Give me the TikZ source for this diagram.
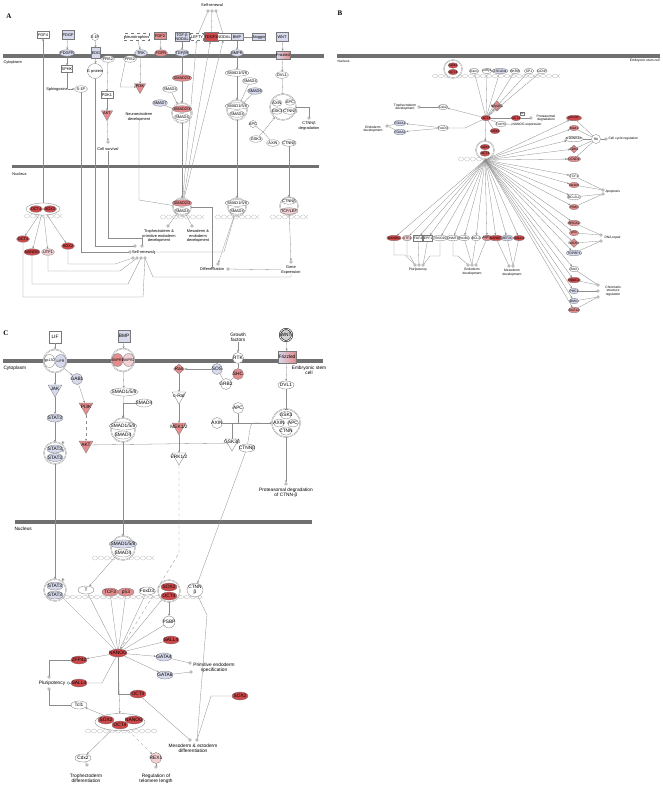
\documentclass[tikz,border=0pt]{standalone}
\usepackage{fontspec}
\setmainfont{Liberation Sans}
\newfontfamily\letterfont{Liberation Serif}
\usetikzlibrary{arrows.meta,positioning,shapes.geometric,calc}
\definecolor{ipared}{RGB}{206,72,74}
\definecolor{ipamid}{RGB}{228,140,142}
\definecolor{ipapink}{RGB}{243,208,210}
\definecolor{ipablue}{RGB}{214,218,236}
\definecolor{ipaline}{RGB}{120,120,120}
\definecolor{ipaedge}{RGB}{140,140,140}
\definecolor{ipamemb}{RGB}{112,112,112}
\tikzset{
  lbl/.style={font=\fontsize{3.9}{4.4}\selectfont, inner sep=0.3pt, align=center},
  small/.style={font=\fontsize{3.5}{3.9}\selectfont},
  letter/.style={font=\letterfont\bfseries\fontsize{7}{8}\selectfont, inner sep=0pt},
  gene/.style={lbl, ellipse, draw=ipaline, fill=white, line width=0.3pt, minimum width=13pt, minimum height=6.5pt, inner xsep=-1.5pt, inner ysep=0pt},
  gbox/.style={lbl, rectangle, draw=ipaline, fill=white, line width=0.3pt, minimum width=12pt, minimum height=7pt},
  kinase/.style={regular polygon, regular polygon sides=3, shape border rotate=180, draw=ipaline, fill=white, line width=0.3pt, minimum size=13pt, inner sep=0pt, label={[lbl,yshift=0.6pt]center:#1}},
  phos/.style={lbl, diamond, draw=ipaline, fill=white, line width=0.3pt, minimum width=11pt, minimum height=10pt, inner sep=-1pt},
  cplx/.style={circle, draw=ipaline, double=white, double distance=0.5pt, line width=0.25pt, fill=white},
  endpt/.style={circle, draw=ipaline, fill=white, line width=0.3pt, minimum size=2.6pt, inner sep=0pt},
  phosph/.style={circle, draw=ipaline, fill=white, line width=0.2pt, inner sep=0.1pt, font=\fontsize{2.4}{2.6}\selectfont},
  wntring/.style={lbl, circle, draw=black, line width=0.5pt, double=white, double distance=0.8pt, fill=gray!35, minimum size=12pt},
  hot/.style={fill=ipared}, warm/.style={fill=ipamid}, pale/.style={fill=ipapink}, cool/.style={fill=ipablue},
  link/.style={draw=ipaedge, line width=0.3pt},
  act/.style={link, -{Stealth[length=2.2pt,width=2pt]}},
  blk/.style={link, -{Bar[width=3pt]}},
  helixline/.style={draw=gray!55, line width=0.3pt},
}
% DNA strand under a transcription complex: x, y, width
\newcommand{\dnahelix}[3]{%
  \draw[helixline] plot[domain=0:#3,samples=60,smooth] ({#1-#3/2+\x},{#2+2*sin(\x*30)});
  \draw[helixline] plot[domain=0:#3,samples=60,smooth] ({#1-#3/2+\x},{#2-2*sin(\x*30)});
}
\begin{document}
\begin{tikzpicture}[x=1pt,y=-1pt]
\useasboundingbox[fill=white] (0,0) rectangle (662,790);

%%%%%%%%%%%%%%%% panel A
\begin{scope}
  \node[letter] (labA) at (9,16) {A};
  \fill[ipamemb] (3,54) rectangle (324,58);
  \fill[ipamemb] (12,165) rectangle (319,168);
  \node[lbl, anchor=west] (cytA) at (3,62) {Cytoplasm};
  \node[lbl, anchor=west] (nucA) at (12,174) {Nucleus};

  \node[gbox] (fgf4A) at (43,35) {FGF4};
  \node[gbox,cool,minimum height=9pt] (pdgfA) at (68,35) {PDGF};
  \node[gene,cool] (pdgfrA) at (67,53) {PDGFR};
  \node[gene,circle,minimum size=7pt] (s1pA) at (95,37) {S-1P};
  \node[gbox,cool,minimum width=9pt,minimum height=11pt] (edgA) at (96,53) {EDG};
  \node[gbox,dashed] (ntroA) at (137,37) {Neurotrophins};
  \node[gbox,warm] (fgf2A) at (160,36) {FGF2};
  \node[gene,cool] (trkA) at (141,53) {TRK};
  \node[gene,warm] (fgfrA) at (161,53) {FGFR};
  \node[gene] (frs2A) at (108,59) {FRS2};
  \node[gene] (irsA) at (130,59) {FRS2};
  \node[gbox,minimum width=11pt] (sphkA) at (67,69) {SPHK};
  \node[lbl] (sphgA) at (57,89) {Sphingosine};
  \node[gene] (s1pbA) at (81,89) {S-1P};
  \node[gene,circle,minimum size=15pt] (gprA) at (95,71) {G protein};
  \node[gbox] (pdk1A) at (107,95) {PDK1};
  \node[kinase=AKT,warm] (aktA) at (107,114) {};
  \node[endpt] (survcA) at (108,142) {};
  \node[lbl] (survA) at (108,149) {Cell survival};
  \node[kinase=PI3K,warm] (pi3kA) at (140,87) {};
  \node[gene,cool] (smad7A) at (160,103) {SMAD7};
  \node[lbl] (neuroA) at (139,117) {Neuroectoderm\\development};

  \node[lbl] (srtA) at (212,5) {Self-renewal};
  \node[endpt] (srt1A) at (208,11) {};
  \node[endpt] (srt2A) at (212,11) {};
  \node[endpt] (srt3A) at (216,11) {};
  \node[gbox,cool,minimum height=9pt] (tgfnA) at (182,37) {TGF-β\\NODAL};
  \node[gbox,dashed] (leftyA) at (197,37) {LEFTY};
  \node[gbox,hot,minimum width=14pt,minimum height=9pt] (tdgfA) at (211,37) {TDGF1};
  \node[gbox] (nodalA) at (224,37) {NODAL};
  \node[gene,cool] (tgfbrA) at (182,53) {TGFβR};
  \node[gbox,cool] (bmpA) at (237,37) {BMP};
  \node[gbox,cool] (noggA) at (259,37) {Noggin};
  \node[gbox,cool,minimum height=9pt] (wntA) at (282,37) {WNT};
  \node[gbox,left color=ipablue,right color=ipamid,minimum width=14pt,minimum height=8pt] (fzdA) at (283,55) {Frizzled};
  \node[gene,cool] (bmprA) at (237,53) {BMPR};
  \node[gene,warm] (smad23A) at (182,78) {SMAD2/3};
  \node[gene] (smad4A) at (170,89) {SMAD4};
  \node[cplx,minimum size=20pt] (cx23A) at (182,113) {};
  \node[gene,warm] (cx23aA) at (182,109) {SMAD2/3};
  \node[gene] (cx23bA) at (182,117) {SMAD4};
  \node[gene] (smad158A) at (237,73) {SMAD1/5/8};
  \node[gene] (smad4bA) at (250,81) {SMAD4};
  \node[gene,cool] (smad6A) at (255,91) {SMAD6};
  \node[cplx,minimum size=20pt] (cx158A) at (237,110) {};
  \node[gene] (cx158aA) at (237,106) {SMAD1/5/8};
  \node[gene] (cx158bA) at (237,114) {SMAD4};
  \node[gene] (dvl1A) at (282,75) {DVL1};
  \node[cplx,minimum size=26pt] (cxwA) at (283,107) {};
  \node[gene,minimum width=10pt] (cxw1A) at (277,103) {AXIN};
  \node[gene,minimum width=10pt] (cxw2A) at (290,102) {APC};
  \node[gene,minimum width=10pt] (cxw3A) at (277,111) {GSK3};
  \node[gene,minimum width=10pt] (cxw4A) at (290,111) {CTNNβ};
  \node[endpt] (degcA) at (309,118) {};
  \node[lbl] (degA) at (309,126) {CTNNβ\\degradation};
  \node[gene,circle,minimum size=7pt] (apcA) at (253,124) {APC};
  \node[gene] (gsk3A) at (256,139) {GSK3};
  \node[gene] (axinA) at (273,143) {AXIN};
  \node[gene] (ctnnA) at (289,143) {CTNNβ};
  \coordinate (wjoinA) at (263,132);

  % nucleus
  \dnahelix{43}{216}{38}
  \dnahelix{182}{217}{44}
  \dnahelix{237}{217}{44}
  \dnahelix{289}{217}{38}
  \node[ellipse,draw=ipaline,line width=0.3pt,fill=white,minimum width=34pt,minimum height=12pt] (cxosA) at (43,209) {};
  \node[gene,hot] (oct4nA) at (36,209) {OCT4};
  \node[gene,hot] (sox2nA) at (50,209) {SOX2};
  \node[gene,hot] (oct4tA) at (23,239) {OCT4};
  \node[gene,hot] (nanogtA) at (32,252) {NANOG};
  \node[gene,pale] (utf1tA) at (48,252) {UTF1};
  \node[gene,hot] (sox2tA) at (68,246) {SOX2};
  \node[endpt] (srncA) at (130,252) {};
  \node[lbl,anchor=west] (srnA) at (131.5,252) {Self-renewal};
  \node[endpt] (sr1A) at (135,246) {};
  \node[endpt] (sr2A) at (142,246) {};
  \node[endpt] (sr3A) at (133,258) {};
  \node[endpt] (sr4A) at (137,258) {};
  \node[endpt] (sr5A) at (141,258) {};
  \node[endpt] (sr6A) at (145,258) {};
  \node[cplx,minimum size=18pt] (cx23nA) at (182,207) {};
  \node[gene,warm] (cx23naA) at (182,203) {SMAD2/3};
  \node[gene] (cx23nbA) at (182,211) {SMAD4};
  \node[endpt] (trophcA) at (168,226) {};
  \node[lbl] (trophA) at (159,236) {Trophectoderm \&\\primitive endoderm\\development};
  \node[endpt] (mescA) at (192,226) {};
  \node[lbl] (mesA) at (198,236) {Mesoderm \&\\endoderm\\development};
  \node[cplx,minimum size=18pt] (cx158nA) at (237,207) {};
  \node[gene] (cx158naA) at (237,203) {SMAD1/5/8};
  \node[gene] (cx158nbA) at (237,211) {SMAD4};
  \node[cplx,minimum size=18pt] (cxctA) at (289,206) {};
  \node[gene] (cxctaA) at (289,201) {CTNNβ};
  \node[gene,pale] (cxctbA) at (289,211) {TCF/LEF};
  \node[endpt] (diffuA) at (218,264) {};
  \node[lbl] (diffA) at (212,269) {Differentiation};
  \node[endpt] (diffcA) at (228,269) {};
  \node[endpt] (genecA) at (291,262) {};
  \node[lbl] (geneA) at (291,270) {Gene\\Expression};

  % cytoplasm connectors
  \draw[act] (cxosA) -- (fgf4A);
  \draw[act] (pdgfA) -- (pdgfrA);
  \draw[act] (pdgfrA) -- (sphkA);
  \draw[link] (sphkA) -- (sphkA |- s1pbA);
  \draw[act] (sphgA) -- (s1pbA);
  \draw[link] (s1pbA) |- (srncA);
  \draw[act] (s1pA) -- (edgA);
  \draw[act] (edgA) -- (gprA);
  \draw[link] (gprA) |- (sr1A);
  \draw[act] (frs2A) -- (pdk1A);
  \draw[act] (pdk1A) -- (aktA);
  \draw[act] (aktA) -- (survcA);
  \draw[link] (survA) -- (108,238) -| (sr2A);
  \draw[act] (ntroA) -- (trkA);
  \draw[act] (trkA) -- (pi3kA);
  \draw[act] (fgf2A) -- (fgfrA);
  \draw[link] (fgfrA) -- (irsA);
  \draw[act] (irsA.south west) -- (120,87) -- (pi3kA);
  \draw[link] (neuroA) -- (139,200) -- (cx23nA);
  \draw[link] (srt1A) -- (leftyA);
  \draw[link] (srt2A) -- (tdgfA);
  \draw[link] (srt3A) -- (nodalA);
  \draw[act] (tgfnA) -- (tgfbrA);
  \draw[act] (tgfbrA) -- (smad23A);
  \draw[act] (smad23A) -- (cx23A);
  \draw[act] (smad4A) -- (cx23A);
  \draw[blk] (smad7A) -- (cx23A);
  \draw[act] (cx23A) -- (cx23nA);
  \draw[act] (cx23nA) -- (leftyA);
  \draw[act] (cx23nA) -- (tdgfA);
  \draw[act] (cx23nA) -- (nodalA);
  \draw[blk] (noggA) -- (bmpA);
  \draw[act] (bmpA) -- (bmprA);
  \draw[act] (bmprA) -- (smad158A);
  \draw[act] (smad158A) -- (cx158A);
  \draw[link] (smad4bA) -- (cx158A);
  \draw[blk] (smad6A) -- (cx158A);
  \draw[act] (cx158A) -- (cx158nA);
  \draw[act] (wntA) -- (fzdA);
  \draw[act] (fzdA) -- (dvl1A);
  \draw[blk] (dvl1A) -- (cxwA);
  \draw[link] (cxwA) -| (degcA);
  \draw[link] (apcA) -- (wjoinA);
  \draw[link] (gsk3A) -- (wjoinA);
  \draw[link] (axinA) -- (wjoinA);
  \draw[act] (wjoinA) -- (cxwA);
  \draw[act] (ctnnA) -- (cxctA);
  % nucleus connectors
  \draw[act] (cxosA) -- (oct4tA);
  \draw[act] (cxosA) -- (nanogtA);
  \draw[act] (cxosA) -- (utf1tA);
  \draw[act] (cxosA) -- (sox2tA);
  \draw[link] (sox2tA) |- (115,264) -- (sr3A);
  \draw[link] (utf1tA) |- (120,271) -- (sr4A);
  \draw[link] (nanogtA) |- (128,284) -- (sr5A);
  \draw[link] (oct4tA) |- (143,297) -- (sr6A);
  \draw[link] (cx23nA) -- (trophcA);
  \draw[link] (cx23nA) -- (mescA);
  \draw[blk] (cx23nA) -| (diffA);
  \draw[blk] (cx158nA) -- (224,252) -- (srnA);
  \draw[act] (cx158nA) -- (diffuA);
  \draw[act] (cxctA) -- (genecA);
  \draw[link] (diffcA) -- (geneA);
  \draw[link] (sr6A) -- (153,277) -| (geneA);
\end{scope}

%%%%%%%%%%%%%%%% panel B
\begin{scope}[lbl/.append style={font=\fontsize{3.3}{3.7}\selectfont},
  gene/.append style={minimum width=9.5pt, minimum height=5.5pt, inner xsep=-1pt},
  gbox/.append style={minimum width=9pt, minimum height=5.5pt}]
  \node[letter] (labB) at (340,13) {B};
  \fill[ipamemb] (337,54) rectangle (660,58);
  \node[lbl, anchor=west] (nucB) at (337,61) {Nucleus};
  \node[lbl, anchor=east] (escB) at (660,61) {Embryonic stem cell};

  \dnahelix{496}{76}{128}
  \dnahelix{478}{159}{40}
  \node[cplx,minimum size=18pt] (cxtopB) at (453,69) {};
  \node[gene,hot] (sox2tpB) at (453,65.5) {SOX2};
  \node[gene,hot] (oct4tpB) at (453,72) {OCT4};
  \node[gene] (t1B) at (474,71) {Dax1};
  \node[gene] (t2B) at (487,71) {Lefty1};
  \node[gene,cool] (t3B) at (500,71) {ZSCAN4};
  \node[gene] (t4B) at (515,71) {BKRB};
  \node[gene] (t5B) at (529,71) {SP1};
  \node[gene] (t6B) at (542,71) {GCNF};

  \node[gene,hot] (hubB) at (486,118) {OCT4};
  \node[phos,warm,minimum width=8pt,minimum height=8pt] (dmB) at (497,106) {NANOG};
  \node[gene,hot] (oct4rB) at (516,118) {OCT4};
  \node[gbox,minimum width=3pt,minimum height=3pt,font=\fontsize{2.2}{2.4}\selectfont] (ubB) at (522,113.5) {Ub};
  \node[endpt] (protcB) at (531,118) {};
  \node[lbl] (protB) at (546,118) {Proteasomal\\degradation};
  \node[gene] (foxhB) at (501,124) {FoxH1};
  \node[lbl,anchor=west] (nexpB) at (512,124.5) {NANOG expression};
  \node[gene,hot] (sox2B) at (495,131) {SOX2};
  \node[gene] (cdx2B) at (443,107) {Cdx2};
  \node[endpt] (trophcB) at (419,107) {};
  \node[lbl] (trophB) at (405,107) {Trophectoderm\\development};
  \node[gene] (foxd3B) at (443,128) {FoxD3};
  \node[gene,cool] (foxa1B) at (400,123) {FOXA1};
  \node[gene,cool] (foxa2B) at (400,132) {FOXA2};
  \node[endpt] (endocB) at (387,126) {};
  \node[lbl] (endoB) at (373,129) {Endoderm\\development};

  \node[cplx,minimum size=18pt] (cxlowB) at (485,150) {};
  \node[gene,hot] (sox2lB) at (485,147) {SOX2};
  \node[gene,hot] (oct4lB) at (485,153.5) {OCT4};
  \coordinate (fanB) at (485,160);

  % right column
  \node[gene,hot,minimum width=15pt] (r1B) at (574,118) {p21CIP};
  \node[gene,warm] (r2B) at (574,128) {Mad1};
  \node[gene,minimum width=15pt] (r3B) at (574,139) {p16INK4A};
  \node[phos,warm,minimum width=8pt,minimum height=8pt] (r4B) at (574,149) {CDK2};
  \node[gene,warm] (r5B) at (574,159) {CCND1};
  \node[gene] (r6B) at (574,176) {TCF1};
  \node[gene,warm] (r7B) at (574,185) {Nestin};
  \node[gene,minimum width=13pt] (r8B) at (574,197) {BCL2L1};
  \node[gene,warm] (r9B) at (574,207) {PIM1};
  \node[gene,warm] (r10B) at (574,223) {BRCA2};
  \node[gene,warm] (r11B) at (574,233) {p53};
  \node[phos,warm,minimum width=8pt,minimum height=8pt] (r12B) at (574,243) {RAD51};
  \node[gene,cool] (r13B) at (574,253) {TOPBP1};
  \node[gene] (r14B) at (574,269) {BAX};
  \node[gene,hot] (r15B) at (574,280) {HDAC1};
  \node[gene,cool] (r16B) at (574,291) {PHC1};
  \node[gene,cool] (r17B) at (574,301) {BMI1};
  \node[gene,warm] (r18B) at (574,310) {SUZ12};
  \node[gene,circle,minimum size=9pt] (rbB) at (596,139) {Rb};
  \node[endpt] (cccB) at (606,139) {};
  \node[lbl,anchor=west] (ccB) at (608,139) {Cell cycle regulation};
  \node[endpt] (ap1B) at (603,190) {};
  \node[endpt] (ap2B) at (603,194) {};
  \node[lbl,anchor=west] (apB) at (605,192) {Apoptosis};
  \node[endpt] (dn1B) at (601,235) {};
  \node[endpt] (dn2B) at (601,241) {};
  \node[lbl,anchor=west] (dnB) at (604,238) {DNA repair};
  \node[endpt] (ch1B) at (598,285) {};
  \node[endpt] (ch2B) at (598,291) {};
  \node[endpt] (ch3B) at (598,297) {};
  \node[lbl] (chB) at (613,291) {Chromatin\\structure\\regulation};

  % bottom row
  \node[gene,hot] (b1B) at (394,238) {NANOG};
  \node[gene,pale] (b2B) at (407,238) {UTF1};
  \node[gbox] (b3B) at (418,238) {FGF4};
  \node[gbox] (b4B) at (428,238) {EPF1};
  \node[gene] (b5B) at (440,238) {FBXO15};
  \node[gene] (b6B) at (453,238) {DNMT1};
  \node[gene] (b7B) at (464,238) {HoxB1};
  \node[gene] (b8B) at (476,238) {BCL2};
  \node[gene,warm] (b9B) at (487,238) {AQP3};
  \node[gene,hot] (b10B) at (496,238) {NANOG};
  \node[gene,cool] (b11B) at (507,238) {MEF2C};
  \node[gene,hot] (b12B) at (519,238) {SALL4};
  \node[endpt] (pl1B) at (415,265) {};
  \node[endpt] (pl2B) at (419,265) {};
  \node[endpt] (pl3B) at (423,265) {};
  \node[lbl] (plB) at (418,270) {Pluripotency};
  \node[endpt] (en1B) at (468,265) {};
  \node[endpt] (en2B) at (472,265) {};
  \node[endpt] (en3B) at (476,265) {};
  \node[lbl] (enB) at (472,271.5) {Endoderm\\development};
  \node[endpt] (me1B) at (509,266) {};
  \node[endpt] (me2B) at (513,266) {};
  \node[lbl] (meB) at (512,272.5) {Mesoderm\\development};

  \foreach \t in {1,...,6} \draw[link] (hubB) -- (t\t B);
  \draw[act] (hubB) -- (cdx2B);
  \draw[link] (cdx2B) -- (trophcB);
  \draw[link] (hubB) -- (465,128) -- (foxd3B);
  \draw[act] (foxd3B) -- (foxa1B);
  \draw[act] (foxd3B) -- (foxa2B);
  \draw[link] (foxa1B) -- (endocB);
  \draw[link] (foxa2B) -- (endocB);
  \draw[act] (hubB) -- (dmB);
  \draw[link] (hubB) -- (oct4rB);
  \draw[link] (oct4rB) -- (protcB);
  \draw[link] (hubB) -- (foxhB);
  \draw[blk] (foxhB) -- (nexpB);
  \draw[link] (hubB) -- (sox2B);
  \draw[act] (hubB) -- (cxlowB);
  \foreach \t in {1,...,18} \draw[act] (fanB) -- (r\t B);
  \foreach \t in {1,...,12} \draw[act] (fanB) -- (b\t B);
  \foreach \t in {1,2,3,4,5} \draw[link] (r\t B) -- (rbB);
  \draw[link] (rbB) -- (cccB);
  \draw[link] (r6B) -- (ap1B);
  \draw[link] (r7B) -- (ap1B);
  \draw[link] (r8B) -- (ap2B);
  \draw[link] (r9B) -- (ap2B);
  \draw[link] (r10B) -- (dn1B);
  \draw[link] (r11B) -- (dn1B);
  \draw[link] (r12B) -- (dn2B);
  \draw[link] (r13B) -- (dn2B);
  \draw[link] (r14B) -- (ch1B);
  \draw[link] (r15B) -- (ch1B);
  \draw[link] (r16B) -- (ch2B);
  \draw[link] (r17B) -- (ch3B);
  \draw[link] (r18B) -- (ch3B);
  \draw[link] (b1B) |- (405,255) -- (pl1B);
  \draw[link] (b2B) |- (410,256) -- (pl1B);
  \draw[link] (b3B) -- (pl2B);
  \draw[link] (b4B) -- (pl3B);
  \draw[link] (b5B) |- (430,256) -- (pl3B);
  \draw[link] (b6B) |- (458,256) -- (en1B);
  \draw[link] (b7B) -- (en2B);
  \draw[link] (b8B) -- (en2B);
  \draw[link] (b9B) -- (en3B);
  \draw[link] (b10B) -- (me1B);
  \draw[link] (b11B) -- (me2B);
  \draw[link] (b12B) -- (me2B);
\end{scope}

%%%%%%%%%%%%%%%% panel C
\begin{scope}[lbl/.append style={font=\fontsize{4.8}{5.4}\selectfont},
  small/.append style={font=\fontsize{3.6}{4}\selectfont},
  gene/.append style={minimum width=16pt, minimum height=8pt, inner xsep=-2.5pt},
  kinase/.append style={minimum size=16pt}]
  \node[letter] (labC) at (6,333) {C};
  \fill[ipamemb] (3,359) rectangle (323,363);
  \fill[ipamemb] (15,520) rectangle (312,524);
  \node[lbl, anchor=west] (cytC) at (3,368) {Cytoplasm};
  \node[lbl, anchor=west] (nucC) at (14,529) {Nucleus};

  \node[gbox,minimum size=12pt] (lifC) at (55,337) {LIF};
  \node[gbox,cool,minimum size=12pt] (bmpC) at (124,336) {BMP};
  \node[cplx,minimum size=23pt] (lifrC) at (55,361) {};
  \node[gene,small,minimum width=11pt,minimum height=13pt] (gp130C) at (49.5,361) {gp130};
  \node[gene,cool,small,minimum width=11pt,minimum height=13pt] (lifrgC) at (60.5,361) {LIFR};
  \node[cplx,minimum size=23pt] (bmprC) at (123,360) {};
  \node[gene,warm,small,minimum width=11pt,minimum height=13pt] (bmpr1C) at (117.5,360) {BMPR1};
  \node[gene,pale,small,minimum width=11pt,minimum height=13pt] (bmpr2C) at (128.5,360) {BMPR2};
  \node[phos,warm] (rasC) at (179,369) {Ras};
  \node[kinase=JAK,cool] (jakC) at (55,389) {};
  \node[gene,circle,cool,minimum size=11pt] (gab1C) at (77,379) {GAB1};
  \node[kinase=PI3K,warm] (pi3kC) at (86,407) {};
  \node[kinase=AKT,warm] (aktC) at (86,445) {};
  \node[gene,cool] (stat3C) at (55,418) {STAT3};
  \node[cplx,minimum size=22pt] (stcxC) at (55,453) {};
  \node[gene,cool] (stat3aC) at (55,449) {STAT3};
  \node[gene,cool] (stat3bC) at (55,457.5) {STAT3};
  \node[phosph] (pa1C) at (63,443) {P};
  \node[phosph] (pa2C) at (63,451) {P};
  \node[gene] (smad158C) at (124,392) {SMAD1/5/8};
  \node[gene] (smad4C) at (144,403) {SMAD4};
  \node[cplx,minimum size=24pt] (smcxC) at (123,430) {};
  \node[gene] (smcx1C) at (123,426) {SMAD1/5/8};
  \node[gene] (smcx2C) at (123,435) {SMAD4};
  \node[kinase=c-Raf] (crafC) at (179,396) {};
  \node[kinase=MEK1/2,warm] (mekC) at (179,427) {};
  \node[kinase=ERK1/2] (erkC) at (179,457) {};
  \node[lbl] (gfC) at (238,337) {Growth\\factors};
  \node[gene,circle,minimum size=11pt] (rtkC) at (238,358) {RTK};
  \node[gene,circle,cool,minimum size=11pt] (sosC) at (217,369) {SOS};
  \node[gene,circle,warm,minimum size=11pt] (shcC) at (238,374) {SHC};
  \node[gene,circle,minimum size=11pt] (grb2C) at (226,384) {GRB2};
  \node[wntring] (wntC) at (286,335) {WNT};
  \node[gbox,left color=ipablue,right color=ipamid,minimum width=9pt,minimum height=12pt] (fzdC) at (287,357) {Frizzled};
  \node[lbl] (escC) at (309,370) {Embryonic stem\\cell};
  \node[gene] (dvlC) at (286,385) {DVL1};
  \node[gene,circle,minimum size=11pt] (apcC) at (238,408) {APC};
  \node[gene,circle,minimum size=11pt] (axinC) at (217,423) {AXIN};
  \node[kinase=GSK3β] (gskC) at (232,443) {};
  \node[gene] (ctnnC) at (247,448) {CTNNβ};
  \node[cplx,minimum size=28pt] (wcxC) at (286,423) {};
  \node[gene,minimum width=11pt] (wcx1C) at (286,415) {GSK3};
  \node[gene,minimum width=11pt] (wcx2C) at (279,423) {AXIN};
  \node[gene,minimum width=11pt] (wcx3C) at (293,423) {APC};
  \node[gene,minimum width=11pt] (wcx4C) at (286,431) {CTNN};
  \node[endpt] (pdegC) at (286,484) {};
  \node[lbl] (pdegtC) at (286,493) {Proteasomal degradation\\of CTNN-β};

  % nucleus
  \dnahelix{123}{558}{62}
  \dnahelix{124}{597}{156}
  \dnahelix{121}{731}{72}
  \node[cplx,minimum size=24pt] (smnC) at (123,548) {};
  \node[gene,cool] (smn1C) at (123,544) {SMAD1/5/8};
  \node[gene] (smn2C) at (123,553) {SMAD4};
  \node[cplx,minimum size=22pt] (stnC) at (55,590) {};
  \node[gene,cool] (stn1C) at (55,586) {STAT3};
  \node[gene,cool] (stn2C) at (55,595) {STAT3};
  \node[phosph] (pn1C) at (63,580) {P};
  \node[gene] (tC) at (86,590) {T};
  \node[gene,warm] (tcf3C) at (110,592) {TCF3};
  \node[gene,warm] (p53C) at (126,592) {p53};
  \node[gene] (foxd3C) at (147,591) {FoxD3};
  \node[cplx,minimum size=22pt] (soC) at (169,591) {};
  \node[gene,hot] (so1C) at (169,587) {SOX2};
  \node[gene,hot] (so2C) at (169,596) {OCT4};
  \node[gene] (ctnnnC) at (195,590) {CTNN\\β};
  \node[gene,circle,minimum size=12pt] (psbpC) at (169,622) {PSBP};
  \node[gene,hot] (nanogC) at (118,653) {NANOG};
  \node[gene,hot] (sall4aC) at (171,640) {SALL4};
  \node[gene,hot] (zfpC) at (79,660) {ZFP42};
  \node[gene,cool] (gata4C) at (164,657) {GATA4};
  \node[gene,cool] (gata6C) at (165,675) {GATA6};
  \node[endpt] (pe1C) at (190,663) {};
  \node[endpt] (pe2C) at (191,672) {};
  \node[lbl] (peC) at (214,668) {Primitive endoderm\\specification};
  \node[gene,hot] (sall4bC) at (79,683) {SALL4};
  \node[endpt] (pl1C) at (49,677) {};
  \node[endpt] (pl2C) at (68.5,683) {};
  \node[endpt] (pl3C) at (49,689) {};
  \node[lbl] (plC) at (52,683) {Pluripotency};
  \node[gene] (tcl1C) at (79,705) {Tcl1};
  \node[gene,hot] (oct4xC) at (138,694) {OCT4};
  \node[gene,hot] (sox2xC) at (240,696) {SOX2};
  \node[ellipse,draw=ipaline,line width=0.3pt,fill=white,minimum width=50pt,minimum height=17pt] (cxbC) at (120,722) {};
  \node[gene,hot] (cxb1C) at (106,720) {SOX2};
  \node[gene,hot] (cxb3C) at (134,720) {NANOG};
  \node[gene,hot] (cxb2C) at (120,725) {OCT4};
  \node[gene] (cdx2C) at (83,758) {Cdx2};
  \node[endpt] (cdxeC) at (87,765) {};
  \node[lbl] (tdC) at (86,778) {Trophectoderm\\differentiation};
  \node[gene,circle,pale,minimum size=11pt] (rex1C) at (156,758) {REX1};
  \node[endpt] (rexeC) at (156,767) {};
  \node[lbl] (rtlC) at (156,779) {Regulation of\\telomere length};
  \node[endpt] (me1C) at (190,740) {};
  \node[endpt] (me2C) at (197,740) {};
  \node[lbl] (meC) at (193,748) {Mesoderm \& ectoderm\\differentiation};

  % cytoplasm connectors
  \draw[act] (lifC) -- (lifrC);
  \draw[act] (lifrC) -- (jakC);
  \draw[act] (jakC) -- (stat3C);
  \draw[act] (stat3C) -- (stcxC);
  \draw[act] (stcxC) -- (stnC);
  \draw[act] (lifrC) -- (gab1C);
  \draw[act] (gab1C) -- (pi3kC);
  \draw[act,dashed] (pi3kC) -- (aktC);
  \draw[blk] (aktC) -- (gskC);
  \draw[act] (bmpC) -- (bmprC);
  \draw[act] (bmprC) -- (smad158C);
  \draw[act] (smad158C) -- (smcxC);
  \draw[act] (smad4C) -| (smcxC);
  \draw[act] (smcxC) -- (smnC);
  \draw[act] (sosC) -- (rasC);
  \draw[act] (rasC) -- (crafC);
  \draw[act] (crafC) -- (mekC);
  \draw[act] (mekC) -- (erkC);
  \draw[act,dashed] (erkC) -- (179,553) -- (nanogC);
  \draw[act] (gfC) -- (rtkC);
  \draw[link] (rtkC) -- (shcC);
  \draw[link] (sosC) -- (grb2C);
  \draw[link] (shcC) -- (grb2C);
  \draw[act] (wntC) -- (fzdC);
  \draw[act] (fzdC) -- (dvlC);
  \draw[blk] (dvlC) -- (wcxC);
  \draw[act] (wcxC) -- (pdegC);
  \draw[act] (axinC) -- (wcxC);
  \draw[link] (apcC) -- (apcC |- axinC);
  \draw[link] (gskC) -- (gskC |- axinC);
  \draw[link, rounded corners=3pt] (ctnnC) -- (251,423) -- (260,423);
  \draw[act] (ctnnC) -- (ctnnnC);
  % nucleus connectors
  \draw[act] (smnC) -- (tC);
  \foreach \s in {stnC,tC,tcf3C,p53C,foxd3C,soC,psbpC,sall4aC} \draw[link] (\s) -- (nanogC);
  \draw[act] (soC) -- (psbpC);
  \draw[act] (nanogC) -- (zfpC);
  \draw[act] (nanogC) -- (gata4C);
  \draw[act] (nanogC) -- (gata6C);
  \draw[link] (gata4C) -- (pe1C);
  \draw[link] (gata6C) -- (pe2C);
  \draw[link] (nanogC) -- (102,683) -- (sall4bC);
  \draw[link] (zfpC) -| (pl1C);
  \draw[link] (sall4bC) -- (pl2C);
  \draw[link] (tcl1C) -| (pl3C);
  \draw[act] (nanogC) -- (cxbC);
  \draw[link] (oct4xC) -| (nanogC);
  \draw[act] (cxbC) -- (tcl1C);
  \draw[act] (cxbC) -- (cdx2C);
  \draw[act,dashed] (cxbC) -- (rex1C);
  \draw[link] (cdx2C) -- (cdxeC);
  \draw[link] (rex1C) -- (rexeC);
  \draw[link] (oct4xC) -- (me1C);
  \draw[link] (sox2xC) -- (211,696) -- (me2C);
  \draw[link] (ctnnnC) -- (207,615) -- (me2C);
\end{scope}
\end{tikzpicture}
\end{document}
